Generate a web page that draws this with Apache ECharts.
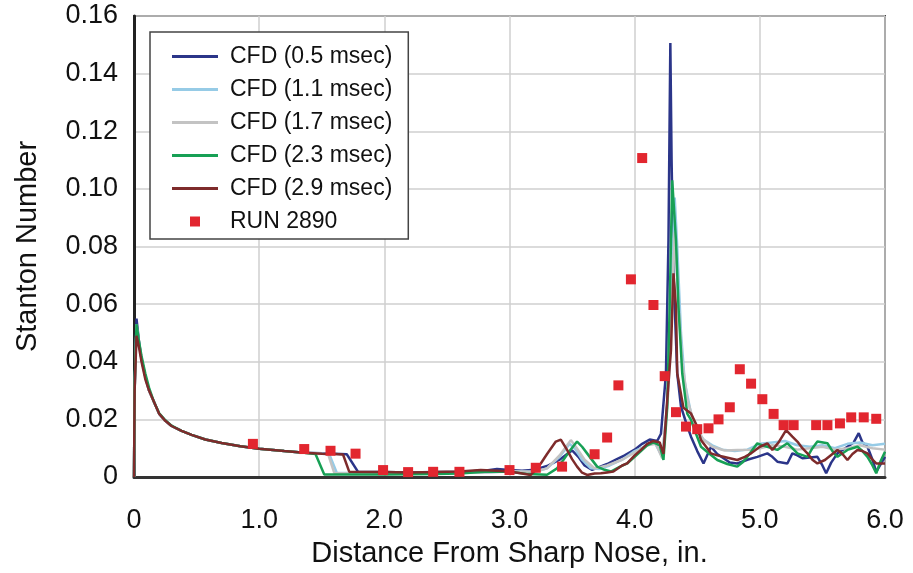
<!DOCTYPE html>
<html>
<head>
<meta charset="utf-8">
<script src="https://cdn.jsdelivr.net/npm/echarts@6/dist/echarts.min.js"></script>
<style>
html,body{margin:0;padding:0;background:#fff;}
#chart{width:913px;height:573px;}
</style>
</head>
<body>
<div id="chart"></div>
<script>
// ---- DATA ----
var seriesNames = ['CFD (0.5 msec)', 'CFD (1.1 msec)', 'CFD (1.7 msec)', 'CFD (2.3 msec)', 'CFD (2.9 msec)', 'RUN 2890'];
var xTicks = [0, 1, 2, 3, 4, 5, 6];
var yTicks = [0, 0.02, 0.04, 0.06, 0.08, 0.10, 0.12, 0.14, 0.16];

var cfd05 = [[0,0],[0.005,0.03],[0.02,0.055],[0.04,0.047],[0.06,0.041],[0.09,0.035],[0.12,0.030],[0.16,0.026],[0.2,0.022],[0.25,0.0195],[0.3,0.0177],[0.38,0.016],[0.46,0.0146],[0.57,0.013],[0.7,0.0118],[0.85,0.0107],[1.0,0.0098],[1.2,0.009],[1.36,0.0084],[1.5,0.0082],[1.6,0.0081],[1.7,0.0079],[1.79,0.0018],[2.0,0.0017],[2.2,0.0016],[2.4,0.0017],[2.6,0.0018],[2.8,0.0022],[2.9,0.0028],[3.0,0.0024],[3.1,0.0022],[3.2,0.0025],[3.3,0.0038],[3.4,0.006],[3.46,0.008],[3.5,0.0092],[3.55,0.007],[3.6,0.004],[3.66,0.0025],[3.72,0.0035],[3.78,0.0045],[3.85,0.006],[3.92,0.0075],[4.0,0.0095],[4.06,0.0115],[4.12,0.013],[4.18,0.0125],[4.21,0.015],[4.25,0.036],[4.27,0.082],[4.285,0.1506],[4.295,0.11],[4.31,0.0707],[4.34,0.036],[4.37,0.0244],[4.41,0.019],[4.45,0.014],[4.5,0.009],[4.55,0.0047],[4.61,0.0105],[4.66,0.008],[4.71,0.0065],[4.76,0.005],[4.82,0.0047],[4.9,0.006],[4.98,0.007],[5.06,0.0082],[5.1,0.007],[5.14,0.0053],[5.22,0.0047],[5.26,0.0082],[5.3,0.0075],[5.34,0.0065],[5.4,0.0068],[5.46,0.007],[5.5,0.004],[5.53,0.0013],[5.57,0.005],[5.62,0.0082],[5.70,0.0105],[5.75,0.012],[5.79,0.0152],[5.82,0.012],[5.86,0.0105],[5.9,0.006],[5.93,0.0018],[5.96,0.004],[6.0,0.007]];

var cfd11 = [[0,0],[0.005,0.03],[0.02,0.053],[0.04,0.046],[0.06,0.041],[0.09,0.035],[0.12,0.030],[0.16,0.026],[0.2,0.022],[0.25,0.0195],[0.3,0.0177],[0.38,0.016],[0.46,0.0146],[0.57,0.013],[0.7,0.0118],[0.85,0.0107],[1.0,0.0098],[1.2,0.009],[1.36,0.0084],[1.5,0.0081],[1.56,0.0079],[1.62,0.0015],[1.8,0.0014],[2.0,0.0014],[2.4,0.0014],[2.8,0.0016],[3.0,0.002],[3.2,0.0018],[3.3,0.003],[3.4,0.007],[3.48,0.0115],[3.52,0.01],[3.58,0.006],[3.65,0.003],[3.72,0.0028],[3.8,0.004],[3.9,0.006],[4.0,0.009],[4.1,0.011],[4.16,0.012],[4.22,0.007],[4.26,0.025],[4.29,0.06],[4.32,0.097],[4.34,0.08],[4.37,0.05],[4.40,0.033],[4.45,0.022],[4.5,0.016],[4.55,0.013],[4.62,0.011],[4.7,0.0095],[4.8,0.009],[4.9,0.0095],[5.0,0.0115],[5.1,0.012],[5.2,0.0125],[5.3,0.011],[5.4,0.0105],[5.5,0.011],[5.6,0.01],[5.7,0.0115],[5.8,0.012],[5.9,0.011],[6.0,0.0115]];

var cfd17 = [[0,0],[0.005,0.03],[0.02,0.052],[0.04,0.046],[0.06,0.041],[0.09,0.035],[0.12,0.030],[0.16,0.026],[0.2,0.022],[0.25,0.0195],[0.3,0.0177],[0.38,0.016],[0.46,0.0146],[0.57,0.013],[0.7,0.0118],[0.85,0.0107],[1.0,0.0098],[1.2,0.009],[1.36,0.0084],[1.5,0.0081],[1.55,0.008],[1.6,0.0014],[2.0,0.0013],[2.4,0.0014],[2.8,0.0016],[3.0,0.0019],[3.2,0.0018],[3.3,0.003],[3.4,0.0075],[3.49,0.0128],[3.53,0.0105],[3.6,0.006],[3.68,0.003],[3.78,0.004],[3.9,0.006],[4.0,0.0085],[4.1,0.011],[4.17,0.0115],[4.22,0.0065],[4.27,0.03],[4.32,0.085],[4.35,0.06],[4.38,0.04],[4.42,0.027],[4.48,0.018],[4.55,0.013],[4.62,0.0105],[4.72,0.0092],[4.82,0.0094],[4.92,0.0095],[5.0,0.01],[5.1,0.011],[5.2,0.0105],[5.3,0.0095],[5.4,0.01],[5.5,0.0105],[5.6,0.0095],[5.7,0.01],[5.8,0.011],[5.9,0.01],[6.0,0.0095]];

var cfd23 = [[0,0],[0.005,0.032],[0.02,0.053],[0.04,0.047],[0.06,0.042],[0.09,0.036],[0.12,0.031],[0.16,0.026],[0.2,0.0222],[0.25,0.0197],[0.3,0.0178],[0.38,0.016],[0.46,0.0146],[0.57,0.013],[0.7,0.0118],[0.85,0.0107],[1.0,0.0098],[1.2,0.009],[1.36,0.0084],[1.45,0.008],[1.52,0.0009],[1.8,0.0009],[2.0,0.0009],[2.4,0.001],[2.6,0.0012],[2.8,0.0018],[3.0,0.0018],[3.15,0.001],[3.3,0.0008],[3.38,0.003],[3.43,0.0059],[3.48,0.009],[3.54,0.0123],[3.58,0.0105],[3.62,0.0082],[3.70,0.0036],[3.76,0.0025],[3.81,0.0019],[3.88,0.0035],[3.94,0.0047],[4.0,0.007],[4.05,0.009],[4.1,0.011],[4.15,0.012],[4.2,0.011],[4.23,0.0059],[4.26,0.024],[4.28,0.06],[4.30,0.103],[4.33,0.082],[4.35,0.059],[4.38,0.036],[4.42,0.022],[4.45,0.0198],[4.49,0.015],[4.53,0.0105],[4.6,0.008],[4.66,0.0059],[4.74,0.0045],[4.82,0.0036],[4.86,0.005],[4.90,0.007],[4.98,0.0117],[5.02,0.011],[5.06,0.0105],[5.14,0.0094],[5.22,0.0117],[5.26,0.01],[5.30,0.0082],[5.38,0.007],[5.42,0.01],[5.46,0.0123],[5.54,0.0117],[5.58,0.009],[5.62,0.007],[5.70,0.0094],[5.78,0.0105],[5.82,0.009],[5.86,0.007],[5.9,0.004],[5.93,0.0013],[5.96,0.005],[6.0,0.0088]];

var cfd29 = [[0,0],[0.005,0.03],[0.02,0.049],[0.04,0.045],[0.06,0.040],[0.09,0.034],[0.12,0.030],[0.16,0.026],[0.2,0.022],[0.25,0.0195],[0.3,0.0177],[0.38,0.016],[0.46,0.0146],[0.57,0.013],[0.7,0.0118],[0.85,0.0107],[1.0,0.0098],[1.2,0.009],[1.36,0.0084],[1.5,0.0081],[1.6,0.008],[1.67,0.0078],[1.72,0.0018],[2.0,0.0017],[2.2,0.0016],[2.4,0.0017],[2.6,0.0019],[2.77,0.0024],[2.9,0.0022],[3.0,0.0019],[3.1,0.0012],[3.17,0.0007],[3.21,0.0025],[3.25,0.0047],[3.3,0.008],[3.37,0.0123],[3.41,0.013],[3.46,0.0094],[3.5,0.0062],[3.54,0.0036],[3.58,0.0015],[3.62,0.0007],[3.68,0.0012],[3.73,0.0013],[3.78,0.0016],[3.83,0.0019],[3.9,0.004],[3.94,0.0047],[4.0,0.0075],[4.05,0.0094],[4.1,0.0115],[4.15,0.0125],[4.2,0.012],[4.23,0.008],[4.26,0.0267],[4.29,0.044],[4.31,0.0707],[4.33,0.059],[4.34,0.036],[4.39,0.024],[4.45,0.022],[4.50,0.0175],[4.53,0.0128],[4.58,0.01],[4.61,0.0082],[4.66,0.0075],[4.71,0.007],[4.76,0.0065],[4.82,0.0059],[4.88,0.007],[4.93,0.0082],[5.0,0.0105],[5.06,0.0117],[5.10,0.0094],[5.15,0.012],[5.21,0.0163],[5.26,0.014],[5.30,0.0123],[5.34,0.01],[5.38,0.0082],[5.42,0.006],[5.46,0.0047],[5.52,0.0059],[5.58,0.008],[5.62,0.0094],[5.66,0.008],[5.70,0.0059],[5.74,0.008],[5.78,0.0094],[5.82,0.009],[5.86,0.0082],[5.9,0.006],[5.93,0.0047],[6.0,0.0047]];

var run2890 = [[0.95,0.0115],[1.36,0.0097],[1.57,0.0091],[1.77,0.0081],[1.99,0.0024],[2.19,0.0017],[2.39,0.0018],[2.60,0.0018],[3.00,0.0024],[3.21,0.0032],[3.42,0.0036],[3.68,0.0079],[3.78,0.0137],[3.87,0.0318],[3.97,0.0686],[4.06,0.1107],[4.15,0.0597],[4.24,0.035],[4.33,0.0225],[4.41,0.0175],[4.50,0.0166],[4.59,0.0169],[4.67,0.020],[4.76,0.0242],[4.84,0.0374],[4.93,0.0324],[5.02,0.027],[5.11,0.0219],[5.19,0.018],[5.27,0.018],[5.45,0.018],[5.54,0.018],[5.64,0.0186],[5.73,0.0207],[5.83,0.0207],[5.93,0.0202]];

// ---- CHART ----
var FONT = '"Liberation Sans", Arial, Helvetica, sans-serif';
var colors = ['#2b3589', '#96cbe6', '#c3c3c3', '#17a055', '#7e2b2b', '#e2262f'];
var lineData = [cfd05, cfd11, cfd17, cfd23, cfd29];
var LINE_ICON = 'path://M0,0 L46,0 L46,3 L0,3 Z';
var SQUARE_ICON = 'path://M0,0 L10,0 L10,10 L0,10 Z';

var series = lineData.map(function (d, i) {
  return {
    name: seriesNames[i], type: 'line', data: d, symbol: 'none', showSymbol: false,
    lineStyle: { color: colors[i], width: 2.5 }, itemStyle: { color: colors[i] },
    z: 2 + i, animation: false
  };
});
series.push({
  name: seriesNames[5], type: 'scatter', data: run2890, symbol: 'rect', symbolSize: 10,
  itemStyle: { color: colors[5], opacity: 1 }, z: 10, animation: false
});

var chart = echarts.init(document.getElementById('chart'), null, { renderer: 'canvas' });
chart.setOption({
  backgroundColor: '#fff',
  animation: false,
  color: colors,
  textStyle: { fontFamily: FONT },
  grid: { left: 134, right: 28, top: 16, bottom: 96, show: true, borderColor: '#444', borderWidth: 2, containLabel: false },
  legend: {
    orient: 'vertical', left: 150, top: 32,
    symbolKeepAspect: true,
    data: seriesNames.map(function (n, i) {
      return i < 5
        ? { name: n, icon: LINE_ICON, itemStyle: { color: colors[i], borderWidth: 0 } }
        : { name: n, icon: SQUARE_ICON, itemStyle: { color: colors[5], borderWidth: 0 } };
    }),
    itemWidth: 46, itemHeight: 10, itemGap: 10,
    backgroundColor: '#fff', borderColor: '#444', borderWidth: 1.5, borderRadius: 0,
    padding: [13, 16, 6, 22],
    textStyle: { fontSize: 23, color: '#111', fontFamily: FONT, padding: [0, 0, 0, 7] }
  },
  xAxis: {
    type: 'value', min: 0, max: 6, interval: 1,
    name: 'Distance From Sharp Nose, in.', nameLocation: 'middle', nameGap: 62,
    nameTextStyle: { fontSize: 29, color: '#111', fontFamily: FONT },
    axisLine: { show: true, lineStyle: { color: '#333', width: 3 } },
    axisTick: { show: false },
    axisLabel: { fontSize: 27, color: '#111', margin: 30, fontFamily: FONT,
      formatter: function (v) { return v === 0 ? '0' : v.toFixed(1); } },
    splitLine: { show: true, lineStyle: { color: '#cfcfcf', width: 1.5 } }
  },
  yAxis: {
    type: 'value', min: 0, max: 0.16, interval: 0.02,
    name: 'Stanton Number', nameLocation: 'middle', nameGap: 92,
    nameTextStyle: { fontSize: 29, color: '#111', fontFamily: FONT },
    axisLine: { show: true, lineStyle: { color: '#222', width: 3 } },
    axisTick: { show: false },
    axisLabel: { fontSize: 27, color: '#111', margin: 16, fontFamily: FONT,
      formatter: function (v) { return v === 0 ? '0' : v.toFixed(2); } },
    splitLine: { show: true, lineStyle: { color: '#cfcfcf', width: 1.5 } }
  },
  series: series
});
</script>
</body>
</html>
